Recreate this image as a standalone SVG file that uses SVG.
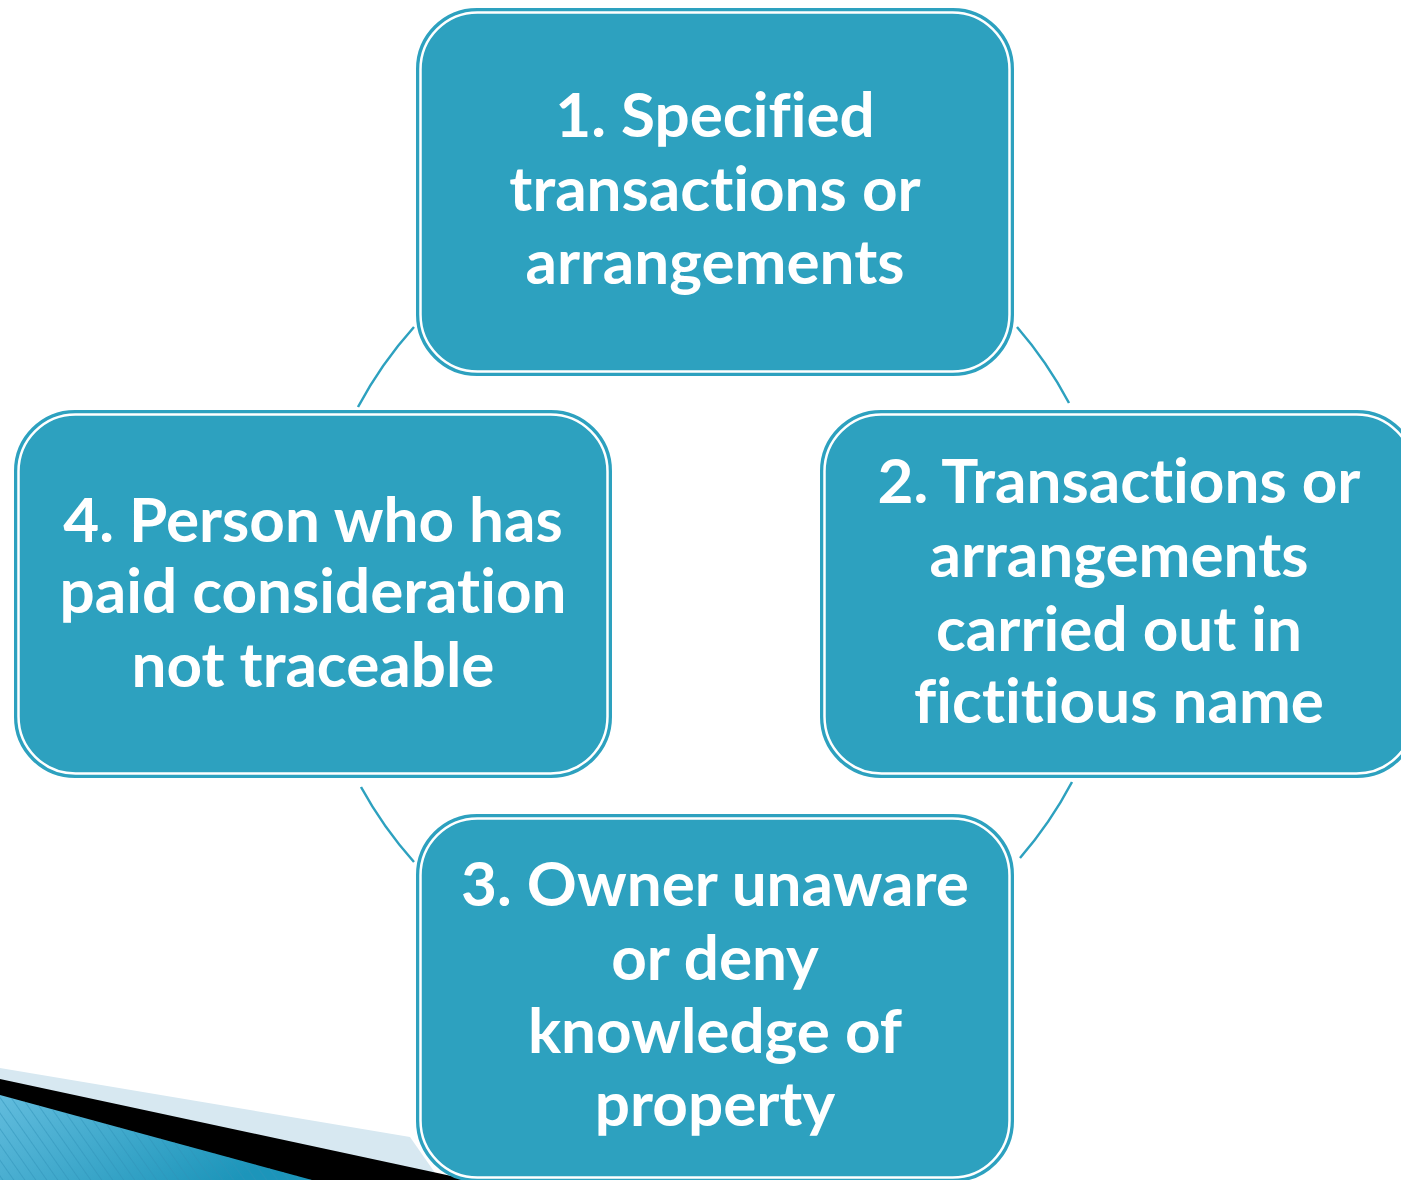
<svg xmlns="http://www.w3.org/2000/svg" width="1401" height="1180" viewBox="0 0 1401 1180">
<defs>
<style>
.outer{fill:#2DA1BF;stroke:#2DA1BF;stroke-width:2}
.inner{fill:#2DA1BF;stroke:#FFFFFF;stroke-width:2.5}
.lbl{font-family:Lato,"Liberation Sans",sans-serif;font-weight:700;font-size:62px;fill:#FFFFFF;text-anchor:middle;font-variant-ligatures:none;font-feature-settings:"liga" 0,"dlig" 0}
.conn{fill:none;stroke:#2DA1BF;stroke-width:2.5}
</style>
<linearGradient id="bluegrad" x1="0" y1="0" x2="1" y2="0.4">
<stop offset="0" stop-color="#62BCDD"/>
<stop offset="1" stop-color="#1C95BA"/>
</linearGradient>
<pattern id="stripes" width="9" height="9" patternUnits="userSpaceOnUse" patternTransform="rotate(-35)">
<rect width="9" height="9" fill="none"/>
<line x1="0" y1="0" x2="0" y2="9" stroke="#2F93B8" stroke-width="1.5" stroke-opacity="0.7"/>
</pattern>
</defs>
<rect width="1401" height="1180" fill="#FFFFFF"/>
<g id="decoration">
<polygon points="0,1068 410,1137 440,1180 0,1180" fill="#D7E8F1"/>
<polygon points="0,1079 470,1180 0,1180" fill="#000000"/>
<polygon points="0,1095 312,1180 0,1180" fill="url(#bluegrad)"/>
<polygon points="0,1095 312,1180 0,1180" fill="url(#stripes)"/>
</g>
<g id="connectors">
<path class="conn" d="M414,327 A403,403 0 0 0 358,407"/>
<path class="conn" d="M1017,327 A403,403 0 0 1 1069,403"/>
<path class="conn" d="M1072,782 A403,403 0 0 1 1020,858"/>
<path class="conn" d="M414,862 A403,403 0 0 1 361,787"/>
</g>
<g id="node1">
<rect class="outer" x="417" y="9" width="596" height="366" rx="60"/>
<rect class="inner" x="420.5" y="12.5" width="589" height="359" rx="57"/>
<text class="lbl" x="715" y="137">1. Specified</text>
<text class="lbl" x="715" y="211">transactions or</text>
<text class="lbl" x="715" y="284">arrangements</text>
</g>
<g id="node2">
<rect class="outer" x="821" y="411" width="596" height="366" rx="60"/>
<rect class="inner" x="824.5" y="414.5" width="589" height="359" rx="57"/>
<text class="lbl" x="1119" y="503">2. Transactions or</text>
<text class="lbl" x="1119" y="577">arrangements</text>
<text class="lbl" x="1119" y="651">carried out in</text>
<text class="lbl" x="1119" y="723">fictitious name</text>
</g>
<g id="node3">
<rect class="outer" x="417" y="815" width="596" height="366" rx="60"/>
<rect class="inner" x="420.5" y="818.5" width="589" height="359" rx="57"/>
<text class="lbl" x="715" y="906">3. Owner unaware</text>
<text class="lbl" x="715" y="980">or deny</text>
<text class="lbl" x="715" y="1053">knowledge of</text>
<text class="lbl" x="715" y="1126">property</text>
</g>
<g id="node4">
<rect class="outer" x="15" y="411" width="596" height="366" rx="60"/>
<rect class="inner" x="18.5" y="414.5" width="589" height="359" rx="57"/>
<text class="lbl" x="313" y="542">4. Person who has</text>
<text class="lbl" x="313" y="613">paid consideration</text>
<text class="lbl" x="313" y="687">not traceable</text>
</g>
</svg>
